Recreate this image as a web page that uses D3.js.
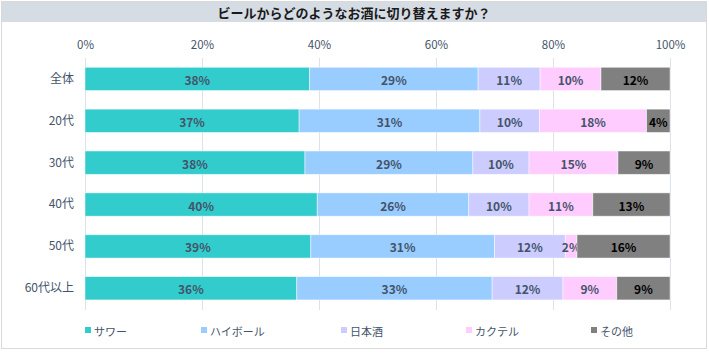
<!DOCTYPE html>
<html><head><meta charset="utf-8">
<script src="https://cdn.jsdelivr.net/npm/d3@7"></script>
<style>
html,body{margin:0;padding:0;background:#fff;}
svg{display:block;font-family:"Noto Sans CJK JP","Noto Sans",sans-serif;}
</style></head>
<body>
<svg id="chart" width="709" height="357"></svg>
<script>
const title = "ビールからどのようなお酒に切り替えますか？";
const categories = ["全体","20代","30代","40代","50代","60代以上"];
const seriesNames = ["サワー","ハイボール","日本酒","カクテル","その他"];
const sour     = [38.4, 36.6, 37.6, 39.7, 38.6, 36.2];
const highball = [28.8, 30.9, 28.7, 25.9, 31.4, 33.4];
const sake     = [10.6, 10.2,  9.6, 10.3, 12.1, 12.1];
const cocktail = [10.4, 18.3, 15.2, 10.9,  2.0,  9.2];
const other    = [11.8,  4.0,  8.9, 13.2, 15.9,  9.1];
const tickValues = [0, 20, 40, 60, 80, 100];
const colors = ["#33CCCC","#99CCFF","#CCCCFF","#FFCCFF","#808080"];

const seriesValues = [sour, highball, sake, cocktail, other];
const rows = categories.map((c,i)=>{
  const o = {cat:c};
  seriesNames.forEach((s,j)=>{ o[s] = seriesValues[j][i]; });
  return o;
});

const svg = d3.select("#chart");
svg.append("rect").attr("x",1.5).attr("y",1.5).attr("width",705).attr("height",347)
  .attr("fill","#fff").attr("stroke","#d9d9d9").attr("stroke-width",1);
svg.append("rect").attr("x",2).attr("y",2).attr("width",704).attr("height",20).attr("fill","#d6dce4");
svg.append("text").attr("x",354).attr("y",12.5).attr("text-anchor","middle")
  .attr("dominant-baseline","central").attr("font-size",13).attr("font-weight","bold")
  .attr("fill","#1a1a1a").text(title);

const x = d3.scaleLinear().domain([0,100]).range([85,670]);
const y = d3.scaleBand().domain(categories).range([58,309.2]).paddingInner(0.443).paddingOuter(0.2215);

svg.append("g").selectAll("line").data(tickValues).join("line")
  .attr("x1",d=>x(d)+0.5).attr("x2",d=>x(d)+0.5).attr("y1",58).attr("y2",310)
  .attr("stroke","#dde1e8").attr("stroke-width",1);

const axis = svg.append("g").attr("transform","translate(0,49)")
  .call(d3.axisTop(x).tickValues(tickValues).tickFormat(d=>d+"%").tickSize(0).tickPadding(0));
axis.select(".domain").remove();
axis.selectAll("text").attr("font-size",11.5).attr("fill","#44546a")
  .attr("font-family","\"Noto Sans CJK JP\",sans-serif").attr("dy","0");

const yAxis = svg.append("g").attr("transform","translate(74,0)")
  .call(d3.axisLeft(y).tickSize(0).tickPadding(0));
yAxis.select(".domain").remove();
yAxis.selectAll("text").attr("font-size",12).attr("fill","#44546a")
  .attr("font-family","\"Noto Sans CJK JP\",sans-serif");

const stack = d3.stack().keys(seriesNames);
const layers = stack(rows);

const g = svg.append("g");
layers.forEach((layer,si)=>{
  const lg = g.append("g");
  lg.selectAll("rect").data(layer).join("rect")
    .attr("x",d=>x(d[0])).attr("width",d=>x(d[1])-x(d[0]))
    .attr("y",d=>y(d.data.cat)).attr("height",y.bandwidth())
    .attr("fill",colors[si]).attr("stroke","#ffffff").attr("stroke-opacity",0.6).attr("stroke-width",0.8);
  lg.selectAll("text").data(layer).join("text")
    .attr("x",d=>(x(d[0])+x(d[1]))/2).attr("y",d=>y(d.data.cat)+y.bandwidth()/2+0.5)
    .attr("text-anchor","middle").attr("dominant-baseline","central")
    .attr("font-size",12).attr("font-weight","bold")
    .attr("fill", si===4 ? "#000000" : "#44546a")
    .text(d=>Math.round(d[1]-d[0])+"%");
});

const legendX = [85, 201, 341, 466, 591];
const lg = svg.append("g");
seriesNames.forEach((s,i)=>{
  lg.append("rect").attr("x",legendX[i]).attr("y",327).attr("width",6).attr("height",6).attr("fill",colors[i]);
  lg.append("text").attr("x",legendX[i]+9).attr("y",330.5).attr("dominant-baseline","central")
    .attr("font-size",11).attr("fill","#44546a").text(s);
});
</script>
</body></html>
